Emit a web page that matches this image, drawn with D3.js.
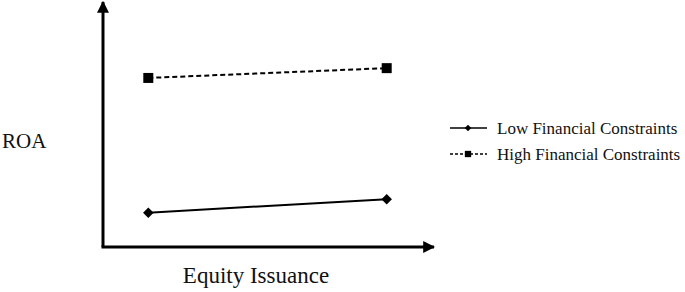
<!DOCTYPE html>
<html>
<head>
<meta charset="utf-8">
<script src="https://cdn.jsdelivr.net/npm/d3@7"></script>
<style>
  body { margin: 0; background: #fff; }
  text { font-family: "Liberation Serif", "Times New Roman", serif; fill: #111; }
</style>
</head>
<body>
<div id="chart"></div>
<script>
// equity issuance levels on the x axis, ROA (arbitrary units, 0-10)
var levels = ["Low", "High"];
var lowConstraints = [1.4, 1.95];
var highConstraints = [6.9, 7.3];
var seriesNames = ["Low Financial Constraints", "High Financial Constraints"];

var width = 685, height = 292;
var margin = {top: 2, left: 103, bottom: 45, right: 253};

var svg = d3.select("#chart")
  .append("svg")
    .attr("width", width)
    .attr("height", height);

var defs = svg.append("defs");
defs.append("marker")
    .attr("id", "arrow")
    .attr("viewBox", "0 0 10 10")
    .attr("refX", 9)
    .attr("refY", 5)
    .attr("markerWidth", 4)
    .attr("markerHeight", 4)
    .attr("markerUnits", "strokeWidth")
    .attr("orient", "auto")
  .append("path")
    .attr("d", "M0,0L10,5L0,10Z")
    .attr("fill", "#000");

var x = d3.scalePoint()
  .domain(levels)
  .range([margin.left, width - margin.right])
  .padding(0.19);

var y = d3.scaleLinear()
  .domain([0, 10])
  .range([height - margin.bottom, margin.top]);

// axes drawn as plain arrows (no ticks in the original)
svg.append("line")
  .attr("x1", margin.left).attr("y1", y(0))
  .attr("x2", margin.left).attr("y2", y(10))
  .attr("stroke", "#000").attr("stroke-width", 3)
  .attr("marker-end", "url(#arrow)");
svg.append("line")
  .attr("x1", margin.left - 1.5).attr("y1", y(0))
  .attr("x2", width - margin.right + 2).attr("y2", y(0))
  .attr("stroke", "#000").attr("stroke-width", 3)
  .attr("marker-end", "url(#arrow)");

var line = d3.line()
  .x(function(d, i) { return x(levels[i]); })
  .y(function(d) { return y(d); });

var diamond = d3.symbol().type(d3.symbolDiamond2);
var square = d3.symbol().type(d3.symbolSquare);

// low constraints: solid with diamonds
svg.append("path")
  .datum(lowConstraints)
  .attr("d", line)
  .attr("fill", "none")
  .attr("stroke", "#000")
  .attr("stroke-width", 2);
svg.selectAll("lowpts")
  .data(lowConstraints)
  .enter()
  .append("path")
    .attr("d", diamond.size(70))
    .attr("transform", function(d, i) { return "translate(" + x(levels[i]) + "," + y(d) + ")"; })
    .attr("fill", "#000");

// high constraints: dashed with squares
svg.append("path")
  .datum(highConstraints)
  .attr("d", line)
  .attr("fill", "none")
  .attr("stroke", "#000")
  .attr("stroke-width", 2)
  .attr("stroke-dasharray", "5,3");
svg.selectAll("highpts")
  .data(highConstraints)
  .enter()
  .append("path")
    .attr("d", square.size(100))
    .attr("transform", function(d, i) { return "translate(" + x(levels[i]) + "," + y(d) + ")"; })
    .attr("fill", "#000");

// axis titles
svg.append("text")
  .attr("x", 2)
  .attr("y", 148)
  .style("font-size", "21px")
  .text("ROA");
svg.append("text")
  .attr("x", 256)
  .attr("y", 283)
  .attr("text-anchor", "middle")
  .style("font-size", "23px")
  .text("Equity Issuance");

// legend
var legend = svg.append("g");
var legY = [128, 154];
legend.selectAll("leglines")
  .data(seriesNames)
  .enter()
  .append("line")
    .attr("x1", 450).attr("x2", 487)
    .attr("y1", function(d, i) { return legY[i]; })
    .attr("y2", function(d, i) { return legY[i]; })
    .attr("stroke", "#000")
    .attr("stroke-width", 1.3)
    .attr("stroke-dasharray", function(d, i) { return i == 1 ? "3,2" : null; });
legend.selectAll("legmarks")
  .data(seriesNames)
  .enter()
  .append("path")
    .attr("d", function(d, i) { return i == 0 ? diamond.size(28)() : square.size(40)(); })
    .attr("transform", function(d, i) { return "translate(468," + legY[i] + ")"; })
    .attr("fill", "#000");
legend.selectAll("legtext")
  .data(seriesNames)
  .enter()
  .append("text")
    .attr("x", 497)
    .attr("y", function(d, i) { return legY[i]; })
    .attr("dy", "0.35em")
    .style("font-size", "17px")
    .text(function(d) { return d; });
</script>
</body>
</html>
